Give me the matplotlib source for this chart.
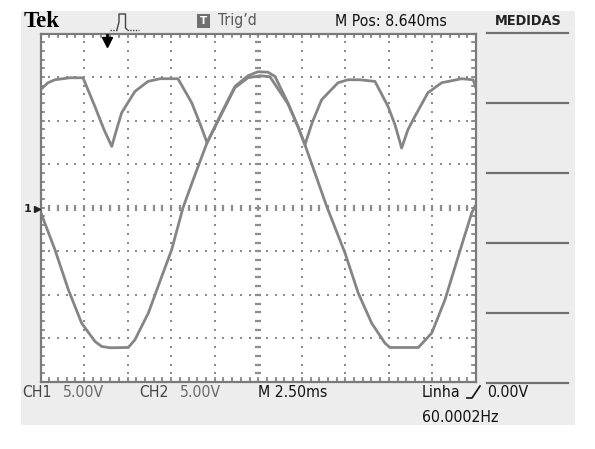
import numpy as np
import matplotlib
matplotlib.use("Agg")
import matplotlib.pyplot as plt
from matplotlib.patches import Rectangle
from matplotlib.lines import Line2D

# ---- data (time in ms, volts) ----
ch1_t = [0.00, 0.83, 1.60, 2.36, 3.13, 3.51, 3.99, 5.04, 5.42, 6.19, 6.96, 7.53,
         8.18, 8.87, 9.56, 10.40, 11.16, 11.91, 12.48, 13.06, 13.46, 14.20, 14.78,
         15.18, 15.81, 16.43, 17.48, 18.24, 19.01, 19.77, 20.06, 21.69, 22.46,
         23.22, 23.98, 24.75, 24.94]
ch1_v = [-0.46, -4.82, -9.41, -13.24, -15.35, -15.92, -16.07, -16.04, -15.15,
         -12.09, -7.89, -4.82, 0.00, 3.79, 7.46, 10.91, 13.92, 15.15, 15.61, 15.56,
         15.07, 12.05, 9.33, 7.23, 3.67, 0.15, -5.20, -9.79, -13.24, -15.53,
         -16.04, -16.04, -14.38, -10.56, -5.59, -0.61, 0.15]

ch2_t = [0.00, 0.43, 0.83, 1.69, 2.44, 3.13, 3.65, 4.09, 4.40, 4.66, 5.42, 6.17,
         6.86, 7.89, 8.68, 9.16, 9.56, 10.40, 11.16, 11.91, 12.60, 13.17, 14.20,
         14.78, 15.18, 15.60, 16.14, 17.08, 17.65, 18.34, 19.20, 19.95, 20.35,
         20.73, 21.09, 21.49, 22.24, 23.03, 24.18, 24.83, 25.00]
ch2_v = [13.55, 14.35, 14.69, 14.92, 14.92, 11.59, 8.95, 7.04, 9.20, 10.91, 13.35,
         14.50, 14.81, 14.81, 12.05, 9.64, 7.46, 10.79, 13.78, 14.92, 15.15, 15.04,
         11.94, 9.30, 7.23, 9.80, 12.40, 14.35, 14.69, 14.69, 14.50, 11.63, 9.53,
         6.85, 8.95, 10.48, 13.20, 14.35, 14.81, 14.69, 13.78]

ms_per_div = 2.5
volts_per_div = 5.0
n_xdiv = 10
n_ydiv = 8

W, H = 595, 449
fig = plt.figure(figsize=(W / 100, H / 100), dpi=100)
fig.patch.set_facecolor("white")


def fx(x):
    return x / W


def fy(y):
    return 1 - y / H


# grey scope panel
fig.patches.append(Rectangle((fx(21), fy(425)), fx(575) - fx(21), fy(11) - fy(425),
                             transform=fig.transFigure, facecolor="#ededed",
                             edgecolor="none", zorder=-5))

ax = fig.add_axes([fx(40.5), fy(382), fx(476) - fx(40.5), fy(33.5) - fy(382)])
ax.set_zorder(1)
ax.set_xlim(0, n_xdiv * ms_per_div)
ax.set_ylim(-n_ydiv / 2 * volts_per_div, n_ydiv / 2 * volts_per_div)
ax.set_facecolor("white")
ax.set_xticks([])
ax.set_yticks([])
for s in ax.spines.values():
    s.set_color("#7a7a7a")
    s.set_linewidth(1.6)

grid_col = "#8c8c8c"
xmax = n_xdiv * ms_per_div
ymax = n_ydiv / 2 * volts_per_div
sub_x = np.arange(0, xmax + 0.01, ms_per_div / 5)
sub_y = np.arange(-ymax, ymax + 0.01, volts_per_div / 5)

# dotted graticule
for k in range(1, n_xdiv):
    if k == n_xdiv // 2:
        continue
    ax.plot(np.full_like(sub_y, k * ms_per_div), sub_y, ls="none", marker="s",
            ms=1.6, color=grid_col, mew=0)
for k in range(1, n_ydiv):
    if k == n_ydiv // 2:
        continue
    yk = -ymax + k * volts_per_div
    ax.plot(sub_x, np.full_like(sub_x, yk), ls="none", marker="s", ms=1.6,
            color=grid_col, mew=0)

# centre cross with small ticks
ax.plot(np.full_like(sub_y, xmax / 2), sub_y, ls="none", marker="_", ms=5,
        color=grid_col, mew=1.6)
ax.plot(sub_x, np.zeros_like(sub_x), ls="none", marker="|", ms=5,
        color=grid_col, mew=1.6)

# ticks on the border
tx = 0.22
ty = 0.45
for x in sub_x:
    ax.plot([x, x], [ymax, ymax - ty], color="#7a7a7a", lw=1.2)
    ax.plot([x, x], [-ymax, -ymax + ty], color="#7a7a7a", lw=1.2)
for y in sub_y:
    ax.plot([0, tx], [y, y], color="#7a7a7a", lw=1.2)
    ax.plot([xmax, xmax - tx], [y, y], color="#7a7a7a", lw=1.2)

# traces
trace_col = "#858585"
ax.plot(ch1_t, ch1_v, color=trace_col, lw=2.0, solid_joinstyle="round")
ax.plot(ch2_t, ch2_v, color=trace_col, lw=2.0, solid_joinstyle="round")

# ---- screen texts ----
cond = dict(family="DejaVu Sans", stretch="condensed")
fs = 11.3
fig.text(fx(24), fy(21.5), "Tek", family="Liberation Serif", weight="bold",
         fontsize=16.5, va="center", ha="left", color="black")

# trigger icon
fig.lines.append(Line2D([fx(110), fx(117)], [fy(29.5), fy(29.5)], ls=(0, (1, 1)),
                        color="#444444", lw=1, transform=fig.transFigure))
fig.lines.append(Line2D([fx(117), fx(119), fx(119), fx(125.5), fx(125.5), fx(127)],
                        [fy(29.5), fy(22), fy(14), fy(14), fy(28), fy(29.5)],
                        color="#444444", lw=1, transform=fig.transFigure))
fig.lines.append(Line2D([fx(127), fx(139)], [fy(29.5), fy(29.5)], ls=(0, (1, 1)),
                        color="#444444", lw=1, transform=fig.transFigure))
# trigger position arrow
fig.lines.append(Line2D([fx(106.5), fx(106.5)], [fy(35), fy(40)], color="black",
                        lw=2, transform=fig.transFigure, zorder=3))
fig.lines.append(Line2D([fx(106.5)], [fy(42)], marker="v", ms=7, color="black",
                        transform=fig.transFigure, zorder=3))

fig.patches.append(Rectangle((fx(197), fy(28)), fx(210) - fx(197), fy(14) - fy(28),
                             transform=fig.transFigure, facecolor="#6f6f6f",
                             edgecolor="none"))
fig.text(fx(203.5), fy(21.5), "T", color="white", weight="bold", fontsize=7.5,
         ha="center", va="center")
fig.text(fx(218), fy(21), "Trig\u2019d", color="#5a5a5a", fontsize=fs,
         ha="left", va="center", **cond)
fig.text(fx(335), fy(21), "M Pos: 8.640ms", color="#111111", fontsize=fs,
         ha="left", va="center", **cond)
fig.text(fx(495), fy(21), "MEDIDAS", color="#222222", fontsize=10.4, weight="bold",
         ha="left", va="center", **cond)

# menu separators
for y in [33, 103, 173, 243, 313, 383]:
    fig.lines.append(Line2D([fx(487), fx(568)], [fy(y), fy(y)], color="#707070",
                            lw=1.6, transform=fig.transFigure))

# channel marker
fig.text(fx(24), fy(209), "1", color="#222222", fontsize=8, weight="bold",
         ha="left", va="center")
fig.lines.append(Line2D([fx(36.5)], [fy(209)], marker=">", ms=5, color="#222222",
                        transform=fig.transFigure, zorder=3))

# bottom status line
fig.text(fx(22), fy(392.5), "CH1", color="#444444", fontsize=fs, ha="left",
         va="center", **cond)
fig.text(fx(63), fy(392.5), "5.00V", color="#6a6a6a", fontsize=fs, ha="left",
         va="center", **cond)
fig.text(fx(139), fy(392.5), "CH2", color="#444444", fontsize=fs, ha="left",
         va="center", **cond)
fig.text(fx(180), fy(392.5), "5.00V", color="#6a6a6a", fontsize=fs, ha="left",
         va="center", **cond)
fig.text(fx(258), fy(392.5), "M 2.50ms", color="#111111", fontsize=fs,
         ha="left", va="center", **cond)
fig.text(fx(422), fy(392.5), "Linha", color="#111111", fontsize=fs, ha="left",
         va="center", **cond)
fig.lines.append(Line2D([fx(467), fx(472), fx(480)], [fy(398), fy(398), fy(386)],
                        color="#111111", lw=1.2, transform=fig.transFigure))
fig.text(fx(487), fy(392.5), "0.00V", color="#111111", fontsize=fs, ha="left",
         va="center", **cond)
fig.text(fx(422), fy(417), "60.0002Hz", color="#111111", fontsize=fs,
         ha="left", va="center", **cond)

fig.savefig("out.png", dpi=100)
